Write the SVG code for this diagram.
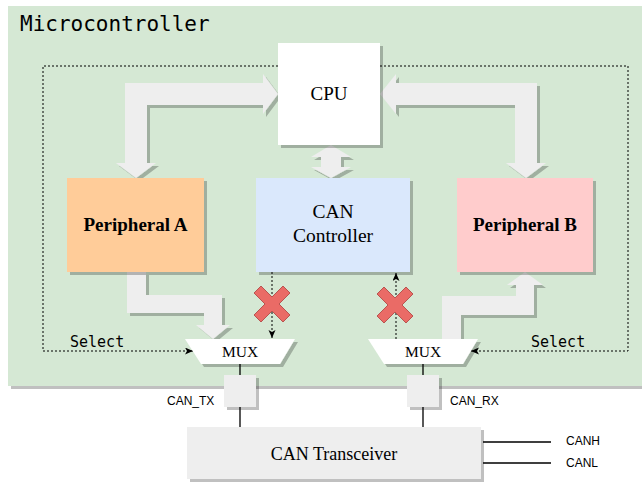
<svg xmlns="http://www.w3.org/2000/svg" width="642" height="485" viewBox="0 0 642 485">
<defs>
<style>
.serif{font-family:"Liberation Serif","Times New Roman",serif;fill:#000;text-anchor:middle}
.mono{font-family:"DejaVu Sans Mono","Liberation Mono",monospace;fill:#000}
.sans{font-family:"Liberation Sans",Arial,sans-serif;font-size:12px;fill:#000}
.bigarrow{fill:#EEEEEE;stroke:none}
.dot{fill:none;stroke:#000;stroke-width:1;stroke-dasharray:2 2}
.wire{fill:none;stroke:#000;stroke-width:1.3}
.xmark{fill:#EA6B66;stroke:#B85450;stroke-width:1}
</style>
<filter id="sh" x="-5%" y="-5%" width="115%" height="115%">
<feOffset in="SourceAlpha" dx="3" dy="3" result="o"/>
<feComponentTransfer in="o" result="s"><feFuncA type="linear" slope="0.25"/></feComponentTransfer>
<feMerge><feMergeNode in="s"/><feMergeNode in="SourceGraphic"/></feMerge>
</filter>
<marker id="ah" markerUnits="userSpaceOnUse" markerWidth="9" markerHeight="8" refX="8" refY="3.5" orient="auto">
<path d="M0,0 L8,3.5 L0,7 L2,3.5 z" fill="#000"/>
</marker>
</defs>
<rect width="642" height="485" fill="#fff"/>

<g id="microcontroller">
<rect x="8" y="6" width="640" height="380" fill="#D5E8D4" filter="url(#sh)"/>
<text class="mono" x="20" y="31" font-size="21">Microcontroller</text>
</g>

<g id="connectors">
<!-- select dotted lines -->
<path class="dot" d="M278,66 H43 V351 H193" marker-end="url(#ah)"/>
<path class="dot" d="M380,66 H628 V351 H471" marker-end="url(#ah)"/>
<text class="mono" x="70" y="347" font-size="15">Select</text>
<text class="mono" x="531" y="347" font-size="15">Select</text>
<!-- CAN controller <-> MUX dotted -->
<path class="dot" d="M272,272 V338" marker-end="url(#ah)"/>
<path class="dot" d="M396,339 V273" marker-end="url(#ah)"/>
<!-- big bus arrows -->
<polygon class="bigarrow" filter="url(#sh)" points="136,178 156,163 147,163 147,105 263,105 263,114 278,94 263,74 263,83 125,83 125,163 116,163"/>
<polygon class="bigarrow" filter="url(#sh)" points="526,178 546,163 537,163 537,83 396,83 396,74 380,94 396,114 396,105 515,105 515,163 506,163"/>
<polygon class="bigarrow" filter="url(#sh)" points="331,145 351,157 341,157 341,167 351,167 331,178 311,167 321,167 321,157 311,157"/>
<polygon class="bigarrow" filter="url(#sh)" points="127,272 146,272 146,295 222,295 222,325 230,325 213,339 196,325 204,325 204,313 127,313"/>
<polygon class="bigarrow" filter="url(#sh)" points="442,339 442,296 516,296 516,285 507,285 525,272 543,285 534,285 534,315 461,315 461,339"/>
<!-- wires -->
<path class="wire" d="M240,364 V375 M240,407 V427 M423,364 V375 M423,407 V427"/>
<path class="wire" d="M483,442 H551 M483,463 H551"/>
</g>

<g id="blocked-tx">
<polygon class="xmark" transform="translate(272,304)" points="-18,-11 -11,-18 0,-7 11,-18 18,-11 7,0 18,11 11,18 0,7 -11,18 -18,11 -7,0"/>
</g>
<g id="blocked-rx">
<polygon class="xmark" transform="translate(395,305)" points="-18,-11 -11,-18 0,-7 11,-18 18,-11 7,0 18,11 11,18 0,7 -11,18 -18,11 -7,0"/>
</g>

<g id="cpu">
<rect x="278" y="43" width="102" height="102" fill="#FFFFFF" filter="url(#sh)"/>
<text class="serif" x="329" y="100" font-size="19">CPU</text>
</g>

<g id="peripheral-a">
<rect x="67" y="178" width="137" height="94" fill="#FFCC99" filter="url(#sh)"/>
<text class="serif" x="135.5" y="231" font-size="19" font-weight="bold">Peripheral A</text>
</g>

<g id="can-controller">
<rect x="256" y="178" width="154" height="94" fill="#DAE8FC" filter="url(#sh)"/>
<text class="serif" x="333" y="218" font-size="19.5">CAN</text>
<text class="serif" x="333" y="242" font-size="19.5">Controller</text>
</g>

<g id="peripheral-b">
<rect x="457" y="178" width="136" height="94" fill="#FFCCCC" filter="url(#sh)"/>
<text class="serif" x="525" y="231" font-size="19" font-weight="bold">Peripheral B</text>
</g>

<g id="mux-tx">
<polygon points="185,339 295,339 280,364 201,364" fill="#FFFFFF" filter="url(#sh)"/>
<text class="serif" x="240" y="357" font-size="15.5">MUX</text>
</g>

<g id="mux-rx">
<polygon points="368,339 478,339 463,364 384,364" fill="#FFFFFF" filter="url(#sh)"/>
<text class="serif" x="423" y="357" font-size="15.5">MUX</text>
</g>

<g id="pin-tx">
<rect x="224" y="375" width="32" height="32" fill="#EEEEEE" filter="url(#sh)"/>
<text class="sans" x="167" y="405">CAN_TX</text>
</g>

<g id="pin-rx">
<rect x="407" y="375" width="32" height="32" fill="#EEEEEE" filter="url(#sh)"/>
<text class="sans" x="450" y="405">CAN_RX</text>
</g>

<g id="can-transceiver">
<rect x="187" y="427" width="294" height="52" fill="#EEEEEE" filter="url(#sh)"/>
<text class="serif" x="334" y="460" font-size="18">CAN Transceiver</text>
</g>

<g id="bus-labels">
<text class="sans" x="566" y="445">CANH</text>
<text class="sans" x="566" y="467">CANL</text>
</g>
</svg>
